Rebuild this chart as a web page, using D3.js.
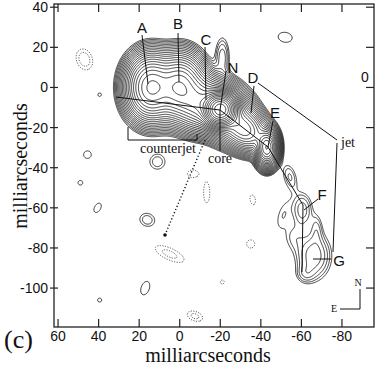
<!DOCTYPE html>
<html>
<head>
<meta charset="utf-8">
<script src="https://cdn.jsdelivr.net/npm/d3@7"></script>
<style>
  body { margin: 0; background: #fff; }
  svg { display: block; }
  .tick-lbl { font-family: "Liberation Sans", Arial, sans-serif; font-size: 14px; fill: #111; }
  .serif { font-family: "Liberation Serif", "Times New Roman", serif; fill: #111; }
  .letter { font-family: "Liberation Sans", Arial, sans-serif; font-size: 15px; fill: #111; }
</style>
</head>
<body>
<svg id="chart" width="380" height="366"></svg>
<script>
// ---- data (milliarcseconds) ----
const xTicks = [60, 40, 20, 0, -20, -40, -60, -80];
const yTicks = [40, 20, 0, -20, -40, -60, -80, -100];

// brightness components: position, widths, tilt, peak
// (A, B, core env, bridge, jet env, core N, E, C loop, jet knot, F, G, F-G bridge, G tail, then isolated patches; negative = dotted)
const compX   = [14,  0,   -20, -9,  -32, -20,  -43, -21, -54.3, -60.5, -66, -67.5, -62,  -52, 45.5, 40.5, 17,  -51,  -56,  49,  39.5, 39.5, 11,   16,   47,   5,    -13.3, -36,  -35,  -21,  -7.5, -6.4];
const compY   = [0,   0,   -11, -8,  -21, -11,  -30, 15,  -44.5, -61,   -84, -70,   -93,  25,  -33.5,-60, -100, -63.5,-74.5,-47.5,-3.6, -106, -37,  -66,  14,   -83,  -52.5, -56,  -78,  -97,  -114, -43];
const compSx  = [5.5, 5.5, 8,   5,   5.5, 3.6,  2.5, 2.3, 2.5,   3.2,   5.3, 2,     3,    4.8, 2.6,  3.5, 4.8,  7,    3.5,  1.6, 1.2,  1.4,  3.6,  3.6,  5.2,  8.6,  6.9,  3.4,  2.8,  1.4,  4.4,  3.6];
const compSy  = [7.2, 7.2, 5.6, 6,   4.3, 3.6,  4.2, 6.5, 5,     5.5,   7.3, 5,     3,    3.4, 2.6,  2.1, 2.8,  2.8,  4.9,  1.6, 1.2,  1.4,  3.6,  3.1,  3.8,  3.2,  2.1,  1.8,  2.8,  1.4,  2.6,  2.6];
const compAng = [0,   0,   40,  0,   40,  0,    0,   0,   -15,   0,     0,   0,     0,    10,  0,    120, 110,  107,  0,    0,   0,    0,    0,    20,   70,   25,   90,   80,   0,    0,    20,   0];
const compAmp = [320, 300, 200, 150, 180, 3000, 300, 3,   1.9,   3,     4.2, 1.6,   1.6,  1.3, 1.3,  1.3, 1.3,  1.3,  1.3,  1.3, 1.3,  1.3,  1.7,  1.7,  -1.7, -1.5, -1.3, -1.3, -1.3, -1.3, -1.5, -1.3];

const levelStep = 1.35;
const levelCount = 34;

// ---- layout ----
const svg = d3.select("#chart");
const frame = { left: 54, right: 374, top: 4, bottom: 327 };

const xScale = d3.scaleLinear().domain([62, -95.8]).range([frame.left, frame.right]);
const yScale = d3.scaleLinear().domain([41.6, -119.4]).range([frame.top, frame.bottom]);

// ---- build the brightness grid ----
const step = 0.5;
const x0 = 62, y0 = 41.6;
const nx = Math.ceil((62 + 95.8) / step) + 1;
const ny = Math.ceil((41.6 + 119.4) / step) + 1;
const grid = new Float64Array(nx * ny);

compX.forEach((cx, k) => {
    const a = compAng[k] * Math.PI / 180;
    const ca = Math.cos(a), sa = Math.sin(a);
    const sx = compSx[k], sy = compSy[k], amp = compAmp[k];
    const reach = Math.max(sx, sy) * 5;
    const i0 = Math.max(0, Math.floor((x0 - (cx + reach)) / step));
    const i1 = Math.min(nx - 1, Math.ceil((x0 - (cx - reach)) / step));
    const j0 = Math.max(0, Math.floor((y0 - (compY[k] + reach)) / step));
    const j1 = Math.min(ny - 1, Math.ceil((y0 - (compY[k] - reach)) / step));
    for (let j = j0; j <= j1; j++) {
        const dy = (y0 - j * step) - compY[k];
        for (let i = i0; i <= i1; i++) {
            const dx = (x0 - i * step) - cx;
            const u = (dx * ca + dy * sa) / sx;
            const v = (-dx * sa + dy * ca) / sy;
            grid[j * nx + i] += amp * Math.exp(-0.5 * (u * u + v * v));
        }
    }
});

const levels = d3.range(levelCount).map(k => Math.pow(levelStep, k));
const contourGen = d3.contours().size([nx, ny]).thresholds(levels);
const posContours = contourGen(Array.from(grid));
const negContours = contourGen(Array.from(grid, v => -v));

const gridPath = d3.geoPath(d3.geoTransform({
    point: function (gx, gy) {
        this.stream.point(xScale(x0 - (gx - 0.5) * step), yScale(y0 - (gy - 0.5) * step));
    }
}));

svg.append("clipPath").attr("id", "plotClip")
    .append("rect")
    .attr("x", frame.left).attr("y", frame.top)
    .attr("width", frame.right - frame.left).attr("height", frame.bottom - frame.top);

const map = svg.append("g").attr("clip-path", "url(#plotClip)");
map.selectAll("path.pos")
    .data(posContours)
    .enter().append("path")
    .attr("class", "pos")
    .attr("d", gridPath)
    .attr("fill", "none")
    .attr("stroke", "#1b1b1b")
    .attr("stroke-width", 0.85);

map.selectAll("path.neg")
    .data(negContours)
    .enter().append("path")
    .attr("class", "neg")
    .attr("d", gridPath)
    .attr("fill", "none")
    .attr("stroke", "#333")
    .attr("stroke-width", 0.8)
    .attr("stroke-dasharray", "1.2,1.4");

// ---- frame & ticks ----
svg.append("rect")
    .attr("x", frame.left).attr("y", frame.top)
    .attr("width", frame.right - frame.left).attr("height", frame.bottom - frame.top)
    .attr("fill", "none").attr("stroke", "#222").attr("stroke-width", 1.3);

const axes = svg.append("g").attr("stroke", "#222").attr("stroke-width", 1.2);
xTicks.forEach(t => {
    axes.append("line").attr("x1", xScale(t)).attr("x2", xScale(t)).attr("y1", frame.top).attr("y2", frame.top + 8);
    axes.append("line").attr("x1", xScale(t)).attr("x2", xScale(t)).attr("y1", frame.bottom).attr("y2", frame.bottom - 8);
});
yTicks.forEach(t => {
    axes.append("line").attr("x1", frame.left - 4).attr("x2", frame.left + 4).attr("y1", yScale(t)).attr("y2", yScale(t));
    axes.append("line").attr("x1", frame.right).attr("x2", frame.right - 8).attr("y1", yScale(t)).attr("y2", yScale(t));
});

svg.selectAll("text.xt").data(xTicks).enter().append("text")
    .attr("class", "tick-lbl xt")
    .attr("x", d => xScale(d)).attr("y", 341)
    .attr("text-anchor", "middle")
    .text(d => d);
svg.selectAll("text.yt").data(yTicks).enter().append("text")
    .attr("class", "tick-lbl yt")
    .attr("x", 48).attr("y", d => yScale(d) + 5)
    .attr("text-anchor", "end")
    .text(d => d);

// stray label near right edge
svg.append("text").attr("class", "tick-lbl").attr("x", 365).attr("y", 82)
    .attr("text-anchor", "middle").text("0");

// titles
svg.append("text").attr("class", "serif")
    .attr("x", 208).attr("y", 362).attr("text-anchor", "middle")
    .style("font-size", "20px").text("milliarcseconds");
svg.append("text").attr("class", "serif")
    .attr("transform", "translate(27,166) rotate(-90)").attr("text-anchor", "middle")
    .style("font-size", "20px").text("milliarcseconds");
svg.append("text").attr("class", "serif")
    .attr("x", 4).attr("y", 348).style("font-size", "26px").text("(c)");

// ---- annotations ----
const ann = svg.append("g").attr("stroke", "#111").attr("stroke-width", 1).attr("fill", "none");
const seg = (pts) => ann.append("path").attr("d", d3.line()(pts));

// jet axis drawn through the source
seg([[116, 97], [220, 110], [268, 147], [303, 205], [302, 272]]);
// leaders
seg([[142, 35], [148, 84]]);          // A
seg([[178, 33], [179, 82]]);          // B
seg([[205, 47], [206, 100]]);         // C
seg([[226, 71], [220, 110], [220, 151]]); // N / core
seg([[254, 86], [251, 113]]);         // D
seg([[258, 83], [337, 140]]);         // D -> jet
seg([[337, 143], [333, 252]]);        // jet -> G
seg([[273, 121], [268, 147]]);        // E
seg([[318, 199], [304, 210]]);        // F
seg([[313, 259], [331, 259]]);        // G
// counterjet bracket
seg([[128, 127], [128, 140], [197, 140], [197, 134]]);
// compass
seg([[360, 289], [360, 309], [340, 309]]);
// dotted pointer
ann.append("path").attr("d", d3.line()([[205, 140], [165, 235]]))
    .attr("stroke-dasharray", "1.2,2.2").attr("stroke-width", 1.4);
svg.append("circle").attr("cx", 165).attr("cy", 235).attr("r", 1.8).attr("fill", "#111");

const letters = [["A", 142, 33], ["B", 178, 29], ["C", 206, 45], ["N", 233, 73], ["D", 253, 83], ["E", 275, 118], ["F", 322, 200], ["G", 339, 266]];
svg.selectAll("text.let").data(letters).enter().append("text")
    .attr("class", "letter let")
    .attr("x", d => d[1]).attr("y", d => d[2])
    .attr("text-anchor", "middle")
    .text(d => d[0]);

svg.append("text").attr("class", "serif").attr("x", 168).attr("y", 153)
    .attr("text-anchor", "middle").style("font-size", "14px").text("counterjet");
svg.append("text").attr("class", "serif").attr("x", 220).attr("y", 163)
    .attr("text-anchor", "middle").style("font-size", "14px").text("core");
svg.append("text").attr("class", "serif").attr("x", 348).attr("y", 147)
    .attr("text-anchor", "middle").style("font-size", "14px").text("jet");
svg.append("text").attr("class", "serif").attr("x", 358).attr("y", 286)
    .attr("text-anchor", "middle").style("font-size", "10px").text("N");
svg.append("text").attr("class", "serif").attr("x", 334).attr("y", 312)
    .attr("text-anchor", "middle").style("font-size", "10px").text("E");
</script>
</body>
</html>
